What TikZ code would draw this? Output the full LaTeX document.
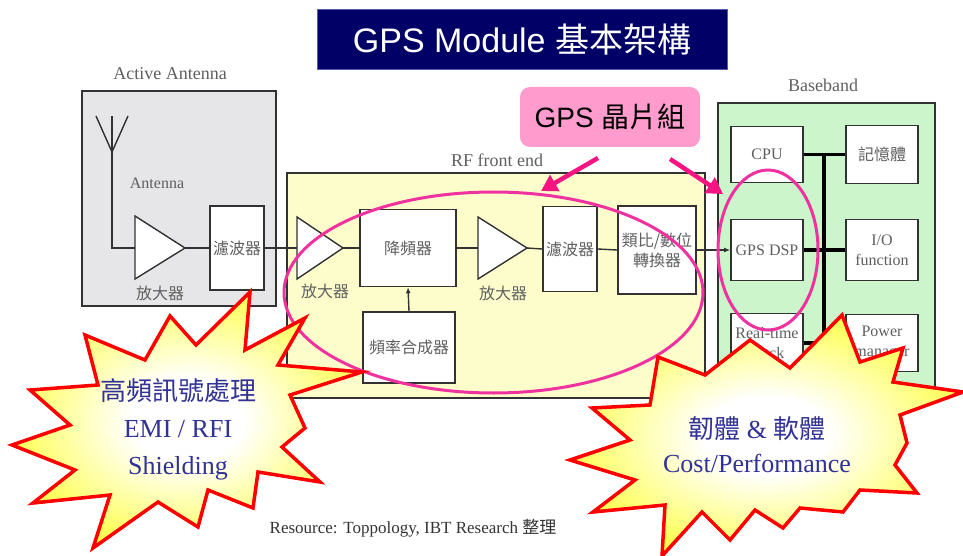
\documentclass[tikz,border=0pt]{standalone}
\usepackage{fontspec}
\setmainfont{Liberation Serif}
\newfontfamily\titlesans{Liberation Sans}
\newfontfamily\cjkfont{Noto Sans CJK TC}
\usetikzlibrary{arrows.meta,calc,shapes.geometric}
\newcommand{\zh}[1]{{\cjkfont #1}}

\definecolor{navy}{RGB}{0,0,102}
\definecolor{navyedge}{RGB}{90,90,170}
\definecolor{graybox}{RGB}{230,230,232}
\definecolor{rfyellow}{RGB}{253,253,204}
\definecolor{bbgreen}{RGB}{204,245,204}
\definecolor{edge}{RGB}{50,50,50}
\definecolor{labelgray}{RGB}{95,95,95}
\definecolor{chippink}{RGB}{255,155,205}
\definecolor{hotpink}{RGB}{245,20,130}
\definecolor{ringpink}{RGB}{240,50,160}
\definecolor{burstred}{RGB}{255,0,0}
\definecolor{burstblue}{RGB}{50,50,150}

\pgfdeclareradialshading{burstfill}{\pgfpoint{0bp}{0bp}}{%
  color(0bp)=(white); color(8bp)=(white); color(34bp)=(yellow); color(50bp)=(yellow)}

\begin{document}
\begin{tikzpicture}[x=1pt,y=-1pt,
  blk/.style={draw=edge, line width=1.6pt, fill=white, text=labelgray,
    inner sep=0pt, align=center, font=\fontsize{16}{20}\selectfont},
  group/.style={draw=edge, line width=1.6pt, inner sep=0pt},
  grouplabel/.style={text=labelgray, font=\fontsize{18}{20}\selectfont},
  amplabel/.style={text=labelgray, font=\fontsize{16}{18}\selectfont},
  amp/.style={draw=edge, line width=1.4pt, fill=white, line join=miter},
  wire/.style={draw=edge, line width=1.4pt},
  bus/.style={draw=black, line width=3.5pt},
  ring/.style={draw=ringpink, line width=3pt},
  pointer/.style={draw=hotpink, line width=4.5pt, -{Triangle[length=16pt,width=18pt]}},
  burst/.style={draw=burstred, line width=3.5pt, line join=miter, miter limit=10, shading=burstfill},
  bursttext/.style={text=burstblue, align=center},
]
\useasboundingbox (0,0) rectangle (963,556);

% title banner
\node[fill=navy, draw=navyedge, line width=1pt, minimum width=410, minimum height=60,
      text=white, inner sep=0pt] (title) at (522,40)
  {\fontsize{34}{38}\selectfont\titlesans GPS Module \zh{基本架構}};

% group frames
\node[group, fill=graybox, minimum width=194, minimum height=215] (antbox) at (179,198.5) {};
\node[grouplabel] (antlbl) at (170,74) {Active Antenna};
\node[group, fill=rfyellow, minimum width=418, minimum height=225] (rfbox) at (496,285.5) {};
\node[grouplabel] (rflbl) at (497,160) {RF front end};
\node[group, fill=bbgreen, minimum width=217, minimum height=287] (bbbox) at (826.5,246.5) {};
\node[grouplabel] (bblbl) at (823,85) {Baseband};

% antenna
\coordinate (anttop) at (112,116);
\coordinate (antfeed) at (112,152);
\coordinate (armL) at (96,116);
\coordinate (armR) at (128,116);
\draw[wire] (armL) -- (antfeed) -- (armR);
\node[amplabel] (antname) at (157,183) {Antenna};

% amplifiers
\draw[amp] (135,216) -- (185,248) -- (135,279) -- cycle;
\coordinate (amp1in) at (135,248); \coordinate (amp1out) at (185,248);
\node[amplabel] (amp1lbl) at (160,293) {\zh{放大器}};
\draw[amp] (297,217) -- (343,248) -- (297,279) -- cycle;
\coordinate (amp2in) at (297,248); \coordinate (amp2out) at (343,248);
\node[amplabel] (amp2lbl) at (325,291) {\zh{放大器}};
\draw[amp] (478,217) -- (527,248) -- (478,279) -- cycle;
\coordinate (amp3in) at (478,248); \coordinate (amp3out) at (527,248);
\node[amplabel] (amp3lbl) at (503,293) {\zh{放大器}};

% blocks
\node[blk, minimum width=54, minimum height=84] (filt1) at (237,248) {\zh{濾波器}};
\node[blk, minimum width=96, minimum height=77] (down) at (408,248) {\zh{降頻器}};
\node[blk, minimum width=92, minimum height=71] (synth) at (409,347.5) {\zh{頻率合成器}};
\node[blk, minimum width=54, minimum height=85] (filt2) at (570,249) {\zh{濾波器}};
\node[blk, minimum width=78, minimum height=88] (adc) at (657,250) {\zh{類比/數位}\\\zh{轉換器}};
\node[blk, minimum width=72, minimum height=56] (cpu) at (767,154.5) {CPU};
\node[blk, minimum width=72, minimum height=61] (dsp) at (767,250) {GPS DSP};
\node[blk, minimum width=72, minimum height=59] (rtc) at (767,343) {Real-time\\clock};
\node[blk, minimum width=72, minimum height=58] (mem) at (882,154.5) {\zh{記憶體}};
\node[blk, minimum width=72, minimum height=61] (io) at (882,250) {I/O\\function};
\node[blk, minimum width=72, minimum height=57] (pwr) at (882,343) {Power\\manager};

% signal chain
\draw[wire] (anttop) |- (amp1in);
\draw[wire] (amp1out) -- (filt1.west);
\draw[wire] (filt1.east) -- (amp2in);
\draw[wire] (amp2out) -- (down.west);
\draw[wire] (down.east) -- (amp3in);
\draw[wire] (amp3out) -- (filt2.west);
\draw[wire] (filt2.east) -- (adc.west);
\draw[wire, -{Latex[length=6pt,width=5pt]}] (adc.east) -- (dsp.west);
\draw[wire, -{Latex[length=6pt,width=5pt]}] (synth.north) -- (down.south);

% baseband bus
\coordinate (bustop) at (824,154.5);
\coordinate (busbot) at (824,343);
\draw[bus] (bustop) -- (busbot);
\draw[bus] (cpu.east) -- (mem.west);
\draw[bus] (dsp.east) -- (io.west);
\draw[bus] (rtc.east) -- (pwr.west);

% chipset highlight
\node[ring, ellipse, minimum width=419, minimum height=201, inner sep=0pt] (rfring) at (493.5,292.5) {};
\node[ring, ellipse, minimum width=100, minimum height=160, inner sep=0pt] (dspring) at (768,250) {};
\node[fill=chippink, rounded corners=10pt, minimum width=180, minimum height=60, inner sep=0pt] (chip) at (610,117)
  {\fontsize{28}{32}\selectfont\titlesans GPS \zh{晶片組}};
\coordinate (ptrAs) at (598,158); \coordinate (ptrAe) at (541,191);
\coordinate (ptrBs) at (670,159); \coordinate (ptrBe) at (723,194);
\draw[pointer] (ptrAs) -- (ptrAe);
\draw[pointer] (ptrBs) -- (ptrBe);

% left starburst
\shadedraw[burst]
  (170,316) -- (196,345) -- (250,292) -- (245,350) -- (305,318) -- (278,365) --
  (362,372) -- (290,395) -- (305,428) -- (282,447) -- (320,482) -- (258,472) --
  (253,508) -- (208,490) -- (198,527) -- (158,502) -- (93,548) -- (110,495) --
  (33,503) -- (75,470) -- (12,445) -- (70,425) -- (30,390) -- (98,385) --
  (85,335) -- (145,360) -- cycle;
\node[bursttext, font=\fontsize{26}{37}\selectfont] (shield) at (178,429)
  {\zh{高頻訊號處理}\\EMI / RFI\\Shielding};

% right starburst
\shadedraw[burst]
  (842,315) -- (860,362) -- (903,348) -- (893,382) -- (963,392) -- (900,415) --
  (907,443) -- (895,465) -- (917,493) -- (860,490) -- (843,512) -- (800,508) --
  (783,528) -- (755,510) -- (730,540) -- (702,512) -- (662,556) -- (665,505) --
  (593,512) -- (635,480) -- (570,460) -- (630,440) -- (592,408) -- (650,405) --
  (658,357) -- (705,375) -- (750,340) -- (790,368) -- cycle;
\node[bursttext, font=\fontsize{26}{34}\selectfont] (cost) at (757,445)
  {\zh{韌體} \& \zh{軟體}\\Cost/Performance};

% source note
\node[text=black!80, font=\fontsize{17}{20}\selectfont] (src) at (413,528)
  {Resource: Toppology, IBT Research \zh{整理}};
\end{tikzpicture}
\end{document}
